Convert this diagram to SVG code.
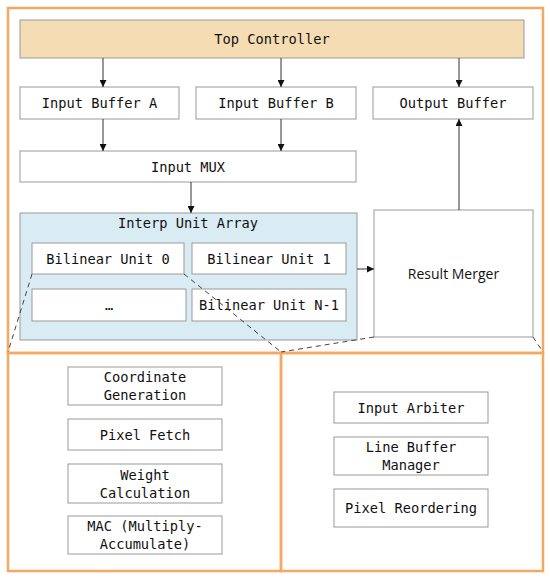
<svg xmlns="http://www.w3.org/2000/svg" width="550" height="581" viewBox="0 0 550 581">
<style>
.frame{fill:none;stroke:#f5a860;stroke-width:2.5}
.box{fill:#ffffff;stroke:#999999;stroke-width:1}
.t{font-family:"DejaVu Sans Mono","Liberation Mono",monospace;font-size:13.7px;fill:#111111;text-anchor:middle;dominant-baseline:central}
.s{font-family:"Open Sans","Noto Sans",sans-serif;font-size:14px;fill:#111111;text-anchor:middle;dominant-baseline:central}
.c{stroke:#333333;stroke-width:1;fill:none}
.d{stroke:#444444;stroke-width:1;fill:none;stroke-dasharray:5,4}
</style>
<defs>
<marker id="ah" viewBox="0 0 10 10" refX="10" refY="5" markerWidth="7" markerHeight="7" markerUnits="userSpaceOnUse" orient="auto">
<path d="M0,0 L10,5 L0,10 z" fill="#111111"/>
</marker>
</defs>
<rect width="550" height="581" fill="#ffffff"/>
<g id="frames">
<rect class="frame" x="8" y="8" width="535" height="345"/>
<rect class="frame" x="8" y="353" width="273" height="218"/>
<rect class="frame" x="281" y="353" width="262" height="218"/>
</g>
<g id="top-controller">
<rect x="20" y="20" width="504" height="38" fill="#f5dcb3" stroke="#999999"/>
<text class="t" x="272" y="39">Top Controller</text>
</g>
<g id="input-buffer-a">
<rect class="box" x="20" y="87" width="159" height="32"/>
<text class="t" x="99.5" y="103">Input Buffer A</text>
</g>
<g id="input-buffer-b">
<rect class="box" x="196" y="87" width="160" height="32"/>
<text class="t" x="276" y="103">Input Buffer B</text>
</g>
<g id="output-buffer">
<rect class="box" x="373" y="87" width="160" height="32"/>
<text class="t" x="453" y="103">Output Buffer</text>
</g>
<g id="input-mux">
<rect class="box" x="20" y="151" width="336" height="31"/>
<text class="t" x="188" y="166.5">Input MUX</text>
</g>
<g id="interp-unit-array">
<rect x="20" y="213" width="337" height="127" fill="#daecf3" stroke="#999999"/>
<text class="t" x="188" y="223">Interp Unit Array</text>
</g>
<g id="bilinear-unit-0">
<rect class="box" x="32" y="243" width="152" height="31"/>
<text class="t" x="108" y="258.5">Bilinear Unit 0</text>
</g>
<g id="bilinear-unit-1">
<rect class="box" x="192" y="243" width="154" height="31"/>
<text class="t" x="269" y="258.5">Bilinear Unit 1</text>
</g>
<g id="ellipsis-unit">
<rect class="box" x="32" y="289" width="154" height="32"/>
<text class="t" x="109" y="305">…</text>
</g>
<g id="bilinear-unit-n-1">
<rect class="box" x="192" y="289" width="154" height="32"/>
<text class="t" x="269" y="305">Bilinear Unit N-1</text>
</g>
<g id="result-merger">
<rect class="box" x="374" y="210" width="159" height="127"/>
<text class="s" x="453.5" y="273">Result Merger</text>
</g>
<g id="coordinate-generation">
<rect class="box" x="68" y="367" width="154" height="38"/>
<text class="t" x="145" y="377">Coordinate</text>
<text class="t" x="145" y="395">Generation</text>
</g>
<g id="pixel-fetch">
<rect class="box" x="68" y="419" width="154" height="31"/>
<text class="t" x="145" y="434.5">Pixel Fetch</text>
</g>
<g id="weight-calculation">
<rect class="box" x="68" y="464" width="154" height="39"/>
<text class="t" x="145" y="474.5">Weight</text>
<text class="t" x="145" y="492.5">Calculation</text>
</g>
<g id="mac">
<rect class="box" x="68" y="516" width="154" height="38"/>
<text class="t" x="145" y="526">MAC (Multiply-</text>
<text class="t" x="145" y="544">Accumulate)</text>
</g>
<g id="input-arbiter">
<rect class="box" x="334" y="392" width="154" height="31"/>
<text class="t" x="411" y="407.5">Input Arbiter</text>
</g>
<g id="line-buffer-manager">
<rect class="box" x="334" y="437" width="154" height="38"/>
<text class="t" x="411" y="447">Line Buffer</text>
<text class="t" x="411" y="465">Manager</text>
</g>
<g id="pixel-reordering">
<rect class="box" x="334" y="489" width="154" height="38"/>
<text class="t" x="411" y="508">Pixel Reordering</text>
</g>
<g id="connectors">
<line class="c" x1="103" y1="58" x2="103" y2="87" marker-end="url(#ah)"/>
<line class="c" x1="281" y1="58" x2="281" y2="87" marker-end="url(#ah)"/>
<line class="c" x1="459" y1="58" x2="459" y2="87" marker-end="url(#ah)"/>
<line class="c" x1="103" y1="119" x2="103" y2="151" marker-end="url(#ah)"/>
<line class="c" x1="281" y1="119" x2="281" y2="151" marker-end="url(#ah)"/>
<line class="c" x1="191" y1="182" x2="191" y2="213" marker-end="url(#ah)"/>
<line class="c" x1="357" y1="269" x2="374" y2="269" marker-end="url(#ah)"/>
<line class="c" x1="459" y1="210" x2="459" y2="119" marker-end="url(#ah)"/>
<line class="d" x1="32" y1="274" x2="8" y2="352"/>
<line class="d" x1="184" y1="274" x2="281" y2="352"/>
<line class="d" x1="374" y1="337" x2="281" y2="352"/>
<line class="d" x1="533" y1="337" x2="543" y2="352"/>
</g>
</svg>
